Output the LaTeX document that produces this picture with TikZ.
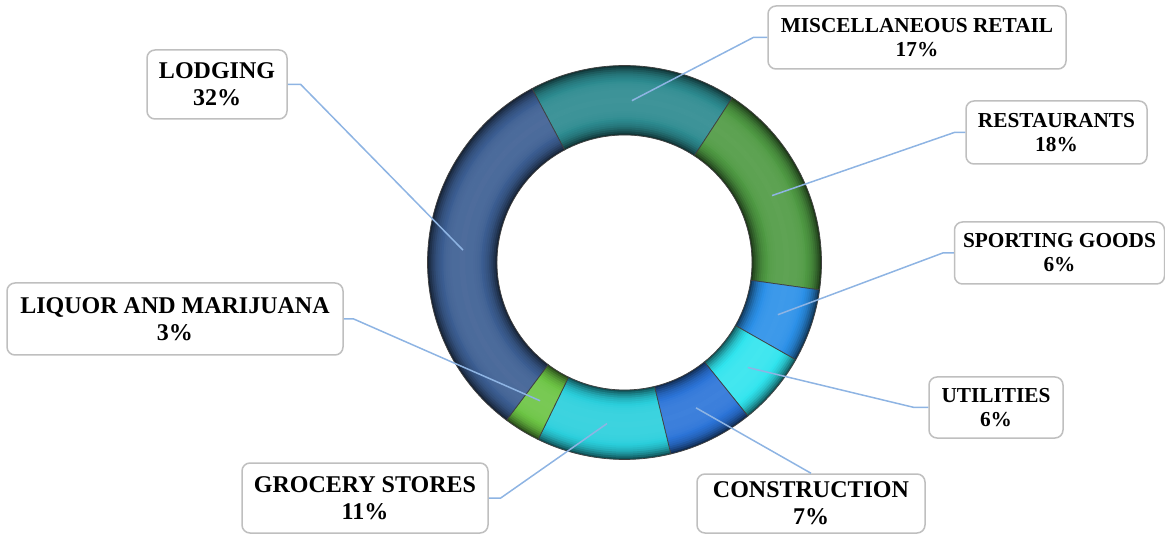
\documentclass[tikz,border=0pt]{standalone}
\usepackage{fontspec}
\setmainfont{Liberation Serif}

\definecolor{lodgingc}{HTML}{3C5E92}
\definecolor{miscc}{HTML}{2C8A8F}
\definecolor{restc}{HTML}{4F9A43}
\definecolor{sportc}{HTML}{2B90E8}
\definecolor{utilc}{HTML}{30E4EE}
\definecolor{constrc}{HTML}{2B74D8}
\definecolor{grocc}{HTML}{2ACFDC}
\definecolor{liquorc}{HTML}{6CC444}
\definecolor{leaderc}{HTML}{8EB4E3}

\tikzset{
  lbl/.style={draw=black!25, line width=1.5pt, rounded corners=8pt, fill=white,
    align=center, inner sep=0pt, font=\fontsize{21.3}{24}\selectfont\bfseries},
  biglbl/.style={lbl, font=\fontsize{24}{27}\selectfont\bfseries},
  leader/.style={draw=leaderc, line width=1.5pt},
  seg/.style={draw=black!75, line width=0.7pt}
}

\begin{document}
\begin{tikzpicture}[x=1pt, y=1pt]
  \useasboundingbox (0,0) rectangle (1165,536);
  \coordinate (c) at (624.5,273.5);

  % donut, each piece shaded as a tube with thin rings
  \foreach \a/\b/\col/\nm in {118/56.8/miscc/misc, 56.8/-8/restc/rest,
      -8/-29.6/sportc/sport, -29.6/-51.2/utilc/util, -51.2/-76.4/constrc/constr,
      -76.4/-116/grocc/groc, -116/-126.8/liquorc/liquor, -126.8/-242/lodgingc/lodging}{
    \begin{scope}
      \clip (c) ++(\a:197) arc[start angle=\a, end angle=\b, radius=197]
        -- ++(\b:-69.5) arc[start angle=\b, end angle=\a, radius=127.5] -- cycle;
      \foreach \i in {0,...,34}{
        \pgfmathsetmacro\s{0.08-0.7*(2*\i/34-1)^4}
        \pgfmathtruncatemacro\p{100-100*abs(\s)}
        \ifdim\s pt<0pt \def\mix{black}\else\def\mix{white}\fi
        \draw[line width=2.6pt, \col!\p!\mix] (c) circle[radius=128.5+2*\i];
      }
    \end{scope}
    \draw[seg] (c) ++(\a:197) arc[start angle=\a, end angle=\b, radius=197]
      -- ++(\b:-69.5) arc[start angle=\b, end angle=\a, radius=127.5] -- cycle;
    \path (c) ++({(\a+\b)/2}:162) coordinate (p-\nm);
  }

  % labels
  \node[lbl, minimum width=298, minimum height=63] (misc) at (917,498.5) {MISCELLANEOUS RETAIL\\17\%};
  \node[biglbl, minimum width=140, minimum height=69] (lodging) at (217,451.5) {LODGING\\32\%};
  \node[lbl, minimum width=181, minimum height=63] (rest) at (1056.5,403.5) {RESTAURANTS\\18\%};
  \node[lbl, minimum width=210, minimum height=62] (sport) at (1059.5,283) {SPORTING GOODS\\6\%};
  \node[lbl, minimum width=134, minimum height=61] (util) at (996,128.5) {UTILITIES\\6\%};
  \node[biglbl, minimum width=228, minimum height=59] (constr) at (811,32.5) {CONSTRUCTION\\7\%};
  \node[biglbl, minimum width=246, minimum height=70] (groc) at (365,38) {GROCERY STORES\\11\%};
  \node[biglbl, minimum width=336, minimum height=72] (liquor) at (175,217) {LIQUOR AND MARIJUANA\\3\%};

  % leader lines
  \draw[leader] (lodging.east) -- ++(13,0) -- (p-lodging);
  \draw[leader] (misc.west) -- ++(-14,0) -- (p-misc);
  \draw[leader] (rest.west) -- ++(-11,0) -- (p-rest);
  \draw[leader] (sport.west) -- ++(-11,0) -- (p-sport);
  \draw[leader] (util.west) -- ++(-14,0) -- (p-util);
  \draw[leader] (constr.north) -- (p-constr);
  \draw[leader] (groc.east) -- ++(12,0) -- (p-groc);
  \draw[leader] (liquor.east) -- ++(10,0) -- (p-liquor);
\end{tikzpicture}
\end{document}
